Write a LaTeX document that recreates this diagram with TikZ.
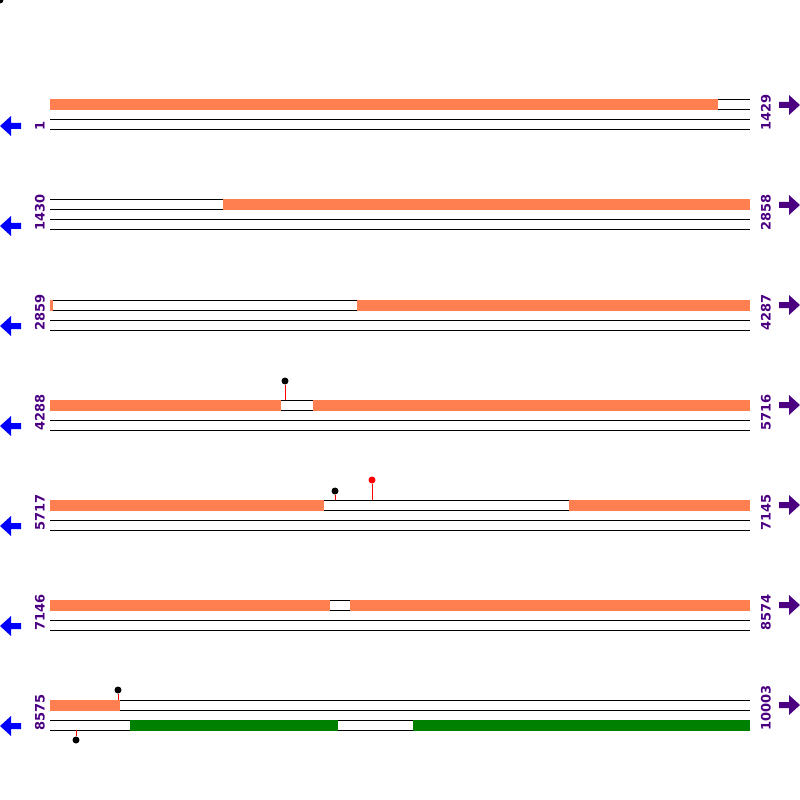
\documentclass[tikz,border=0pt]{standalone}
\usepackage{fontspec}
\newfontfamily\seqfont{DejaVu Sans}
\usepackage{xcolor}
\usepackage{tikz}
\usetikzlibrary{positioning}
\definecolor{coral}{HTML}{FF7F50}
\definecolor{seqgreen}{HTML}{008000}
\definecolor{indig}{HTML}{4B0082}

\begin{document}
\begin{tikzpicture}[x=0.02cm,y=-0.02cm,
  strand/.style={line width=0.02cm,black},
  blk/.style={fill=#1},blk/.default=coral,
  poslabel/.style={font=\seqfont\bfseries\fontsize{7.4}{7.4}\selectfont,text=indig,
              rotate=90,anchor=west,inner sep=0pt},
  stick/.style={red,line width=0.02cm},
  knob/.style={circle,fill=#1,inner sep=0pt,minimum size=0.14cm},knob/.default=black]
  \useasboundingbox (0,0) rectangle (800,800);
  \node[knob] (corner) at (0,0) {};
  % seven rows, 100px apart
  \foreach \r/\lo/\hi in {1/1/1429,2/1430/2858,3/2859/4287,4/4288/5716,
                          5/5717/7145,6/7146/8574,7/8575/10003}{
    \pgfmathsetmacro\yy{100*\r}
    \foreach \d in {0,10,20,30} \draw[strand] (50,\yy+\d) -- (750,\yy+\d);
    \node[poslabel] (lo\r) at (40,\yy+31) {\lo};
    \node[poslabel] (hi\r) at (766,\yy+31) {\hi};
    \fill[blue] (0,\yy+26) -- (11,\yy+16) -- (11,\yy+23) -- (21,\yy+23)
      -- (21,\yy+29) -- (11,\yy+29) -- (11,\yy+36) -- cycle;
    \fill[indig] (800,\yy+5) -- (789,\yy-5) -- (789,\yy+2) -- (779,\yy+2)
      -- (779,\yy+8) -- (789,\yy+8) -- (789,\yy+15) -- cycle;
  }
  % top strand blocks
  \foreach \a/\b/\y in {50/718/100, 223/750/200, 50/53/300, 357/750/300,
                        50/281/400, 313/750/400, 50/324/500, 569/750/500,
                        50/330/600, 350/750/600, 50/120/700}
    \fill[blk] (\a,\y-0.5) rectangle (\b,\y+10.5);
  % bottom strand blocks
  \foreach \a/\b in {130/338, 413/750}
    \fill[blk=seqgreen] (\a,719.5) rectangle (\b,730.5);
  % sites
  \node[knob] (s1) at (285,381) {};
  \draw[stick] (s1) -- (285,400);
  \node[knob] (s2) at (335,491) {};
  \draw[stick] (s2) -- (335,500);
  \node[knob=red] (s3) at (372,480) {};
  \draw[stick] (s3) -- (372,500);
  \node[knob] (s4) at (118,690) {};
  \draw[stick] (s4) -- (118,700);
  \node[knob] (s5) at (76,740) {};
  \draw[stick] (s5) -- (76,730);
\end{tikzpicture}
\end{document}
